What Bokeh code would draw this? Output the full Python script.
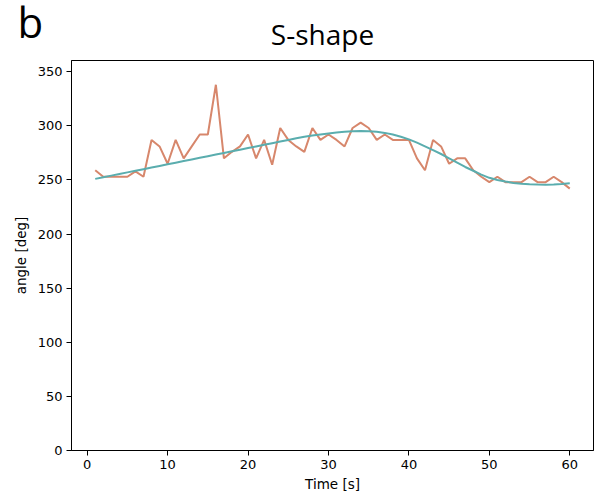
from bokeh.plotting import figure
from bokeh.models import Range1d, FixedTicker
from bokeh.core.properties import value
from bokeh.embed import file_html
from bokeh.resources import INLINE

time_s = list(range(1, 61))
angle_measured = [259, 253, 253, 253, 253, 258, 253, 287, 281, 265,
                  287, 270, 281, 292, 292, 338, 270, 276, 281, 292,
                  270, 287, 264, 298, 287, 281, 276, 298, 287, 292,
                  287, 281, 298, 303, 298, 287, 292, 287, 287, 287,
                  270, 259, 287, 281, 265, 270, 270, 259, 253, 248,
                  253, 248, 248, 248, 253, 248, 248, 253, 248, 242]
angle_fit = [251, 252.5, 254, 255.5, 257, 258.5, 260, 261.5, 263, 264.5,
             266, 267.5, 269, 270.5, 272, 273.5, 275, 276.5, 278, 279.5,
             281, 282.5, 284, 285.5, 287, 288.5, 290, 291, 292, 293,
             293.8, 294.5, 295, 295.2, 295, 294.5, 293.5, 292, 290, 287.5,
             284.5, 281, 277.5, 274, 270, 266, 262, 258.5, 255, 252,
             250, 248.5, 247.3, 246.5, 246, 245.7, 245.6, 245.8, 246.3, 247]
x_ticks = [0, 10, 20, 30, 40, 50, 60]
y_ticks = [0, 50, 100, 150, 200, 250, 300, 350]
title_text = "S-shape"
panel_letter = "b"

# header strip (separate root, so its frame spans the full width)
head = figure(width=595, height=59, output_backend="svg", toolbar_location=None,
              x_range=Range1d(0, 595), y_range=Range1d(0, 59),
              x_axis_location=None, y_axis_location=None,
              min_border=0, min_border_left=0, min_border_right=0,
              min_border_top=0, min_border_bottom=0)
head.grid.visible = False
head.outline_line_color = None
head.background_fill_color = "white"
head.border_fill_color = "white"
head.text(x=[17], y=[38], text=[panel_letter], text_font=value("Open Sans"),
          text_font_size="42px", text_align="left", text_baseline="alphabetic",
          text_color="black")
head.text(x=[322], y=[26], text=[title_text], text_font=value("Open Sans"),
          text_font_size="28px", text_align="center", text_baseline="alphabetic",
          text_color="black")

p = figure(width=595, height=439, output_backend="svg", toolbar_location=None,
           x_range=Range1d(-1.95, 62.95), y_range=Range1d(0, 360.4),
           min_border_left=71, min_border_right=2, min_border_top=1, min_border_bottom=48)
p.background_fill_color = "white"
p.border_fill_color = "white"
p.outline_line_color = "black"
p.outline_line_width = 1
p.xgrid.visible = False
p.ygrid.visible = False

p.line(time_s, angle_measured, line_color="#D7876C", line_width=2)
p.line(time_s, angle_fit, line_color="#5AADAE", line_width=2)

for ax in (p.xaxis[0], p.yaxis[0]):
    ax.axis_line_color = "black"
    ax.major_tick_line_color = "black"
    ax.major_tick_out = 5
    ax.major_tick_in = 0
    ax.minor_tick_line_color = None
    ax.major_label_text_font = "DejaVu Sans"
    ax.major_label_text_font_size = "13px"
    ax.major_label_text_color = "black"
    ax.axis_label_text_font = "DejaVu Sans"
    ax.axis_label_text_font_size = "13.5px"
    ax.axis_label_text_font_style = "normal"
    ax.axis_label_text_color = "black"
    ax.major_label_standoff = 4

p.xaxis[0].ticker = FixedTicker(ticks=x_ticks)
p.yaxis[0].ticker = FixedTicker(ticks=y_ticks)
p.xaxis[0].axis_label = "Time [s]"
p.yaxis[0].axis_label = "angle [deg]"
p.xaxis[0].axis_label_standoff = 4
p.yaxis[0].axis_label_standoff = 6

open("out.html", "w").write(file_html([head, p], INLINE))
